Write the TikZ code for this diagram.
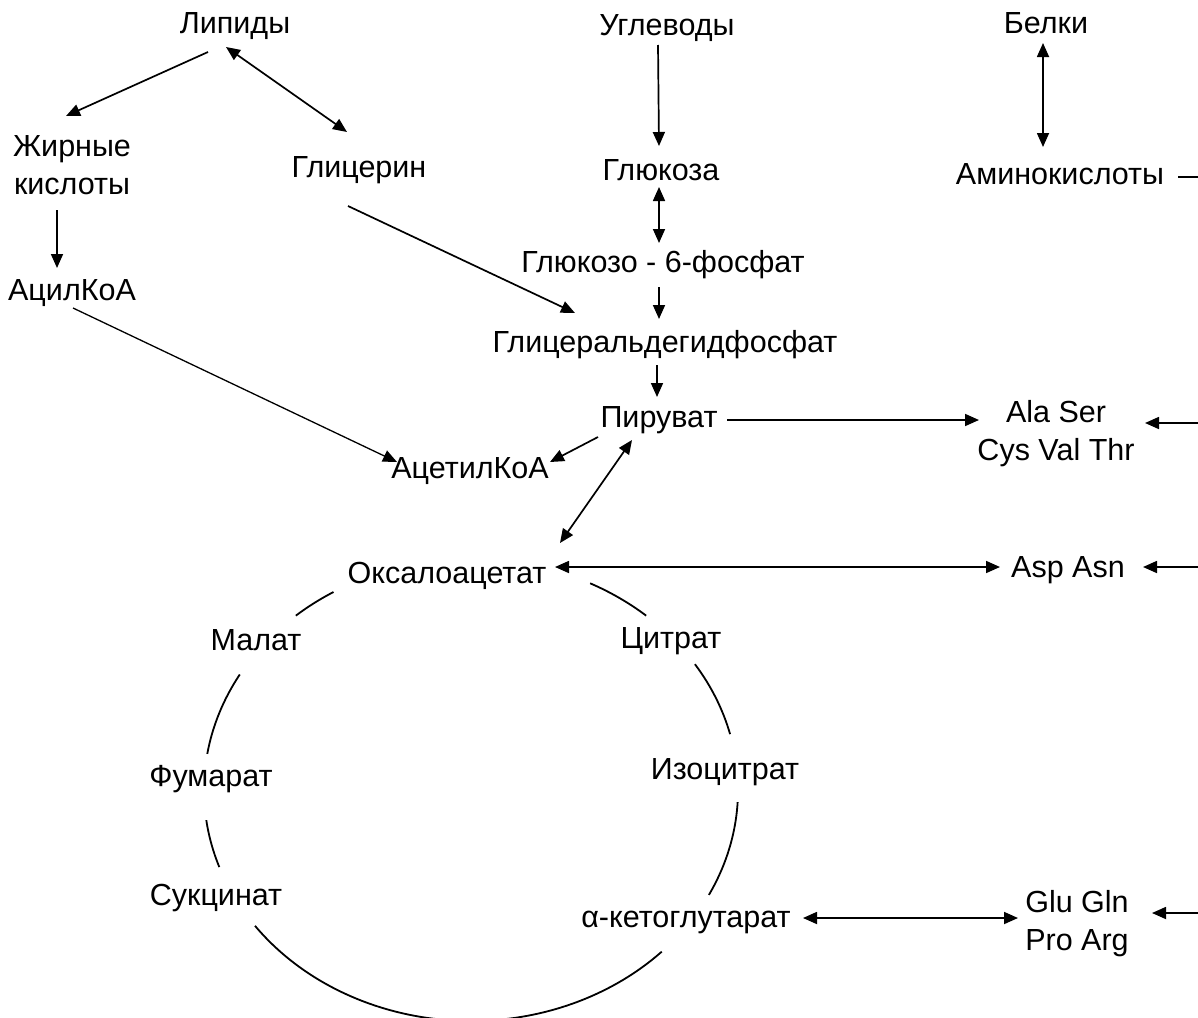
\documentclass[tikz,border=0pt]{standalone}
\usepackage{fontspec}
\setmainfont{Liberation Sans}
\usepackage{tikz}
\usetikzlibrary{arrows.meta, calc, positioning}

\tikzset{
    lbl/.style={font=\fontsize{30.5}{38}\selectfont, inner sep=0pt, anchor=base},
    lbltwo/.style={font=\fontsize{30.5}{38}\selectfont, inner sep=0pt, anchor=north, align=center},
    arr/.style={line width=1.7pt, -{Triangle[length=14pt,width=12pt]}},
    biarr/.style={line width=1.7pt, {Triangle[length=14pt,width=12pt]}-{Triangle[length=14pt,width=12pt]}},
    plain/.style={line width=1.7pt},
    cycarc/.style={line width=1.8pt}
}

\begin{document}
\begin{tikzpicture}[x=1pt, y=1pt]
    \useasboundingbox (0,0) rectangle (1198,-1017);
    \clip (0,0) rectangle (1198,-1017);
    \fill[white] (0,0) rectangle (1198,-1017);

    % lipids
    \node[lbl] (lip) at (235,-33) {Липиды};
    \node[lbltwo] (fatty) at (72,-135) {Жирные\\кислоты};
    \node[lbl] (glyc) at (359,-177) {Глицерин};
    \node[lbl] (acyl) at (72,-300) {АцилКоА};

    % carbohydrates
    \node[lbl] (carb) at (667,-35) {Углеводы};
    \node[lbl] (gluc) at (661,-180) {Глюкоза};
    \node[lbl] (gsixp) at (663,-272) {Глюкозо - 6-фосфат};
    \node[lbl] (gap) at (665,-352) {Глицеральдегидфосфат};
    \node[lbl] (pyr) at (659,-427) {Пируват};
    \node[lbl] (acetyl) at (470,-478) {АцетилКоА};

    % proteins
    \node[lbl] (prot) at (1046,-33) {Белки};
    \node[lbl] (amino) at (1060,-184) {Аминокислоты};
    \node[lbltwo] (alaser) at (1056,-400) {Ala Ser\\Cys Val Thr};
    \node[lbl] (aspasn) at (1068,-577) {Asp Asn};
    \node[lbltwo] (glugln) at (1077,-890) {Glu Gln\\Pro Arg};

    % cycle
    \node[lbl] (oaa) at (447,-583) {Оксалоацетат};
    \node[lbl] (malate) at (256,-650) {Малат};
    \node[lbl] (citrate) at (671,-648) {Цитрат};
    \node[lbl] (fum) at (211,-786) {Фумарат};
    \node[lbl] (isocit) at (725,-779) {Изоцитрат};
    \node[lbl] (succ) at (216,-905) {Сукцинат};
    \node[lbl] (akg) at (686,-927) {α-кетоглутарат};

    % free ends at the right edge
    \coordinate (edgeA) at (1198,-177);
    \coordinate (edgeB) at (1198,-423);
    \coordinate (edgeC) at (1198,-567);
    \coordinate (edgeD) at (1198,-913);

    \draw[arr] ([shift={(-27,-19)}]lip.base) -- ([shift={(-6,19)}]fatty.north);
    \draw[biarr] ([shift={(-9,-14)}]lip.base) -- ([shift={(-12,45)}]glyc.base);
    \draw[arr] ([shift={(-15,-75)}]fatty.north) -- ([shift={(-15,32)}]acyl.base);
    \draw[arr] ([shift={(-11,-29)}]glyc.base) -- ([shift={(-90,39)}]gap.base);
    \draw[arr, line width=1.3pt] ([shift={(1,-8)}]acyl.base) -- ([shift={(-73,16)}]acetyl.base);

    \draw[arr] ([shift={(-9,-10)}]carb.base) -- ([shift={(-2,34)}]gluc.base);
    \draw[biarr] ([shift={(-2,-7)}]gluc.base) -- ([shift={(-4,29)}]gsixp.base);
    \draw[arr] ([shift={(-4,-15)}]gsixp.base) -- ([shift={(-6,33)}]gap.base);
    \draw[arr] ([shift={(-8,-13)}]gap.base) -- ([shift={(-2,30)}]pyr.base);
    \draw[arr] ([shift={(-61,-10)}]pyr.base) -- ([shift={(80,16)}]acetyl.base);
    \draw[biarr] ([shift={(-27,-13)}]pyr.base) -- ([shift={(113,40)}]oaa.base);
    \draw[arr] ([shift={(68,7)}]pyr.base) -- ([shift={(-77,-20)}]alaser.north);

    \draw[biarr] ([shift={(-3,-10)}]prot.base) -- ([shift={(-17,37)}]amino.base);
    \draw[plain] ([shift={(118,7)}]amino.base) -- (edgeA);
    \draw[arr] (edgeB) -- ([shift={(89,-23)}]alaser.north);
    \draw[arr] (edgeC) -- ([shift={(75,10)}]aspasn.base);
    \draw[arr] (edgeD) -- ([shift={(75,-23)}]glugln.north);

    \draw[biarr] ([shift={(108,16)}]oaa.base) -- ([shift={(-68,10)}]aspasn.base);
    \draw[biarr] ([shift={(117,9)}]akg.base) -- ([shift={(-59,-28)}]glugln.north);

    % the cycle, broken at the labels
    \coordinate (cc) at (471,-790);
    \foreach \a/\b in {121/131, 150/171, 187.5/199.5, 216/315.6, 333/357, 14/33, 49/63.5}
        \draw[cycarc] ($(cc)+(\a:267pt and 231pt)$) arc[start angle=\a, end angle=\b, x radius=267pt, y radius=231pt];
\end{tikzpicture}
\end{document}
